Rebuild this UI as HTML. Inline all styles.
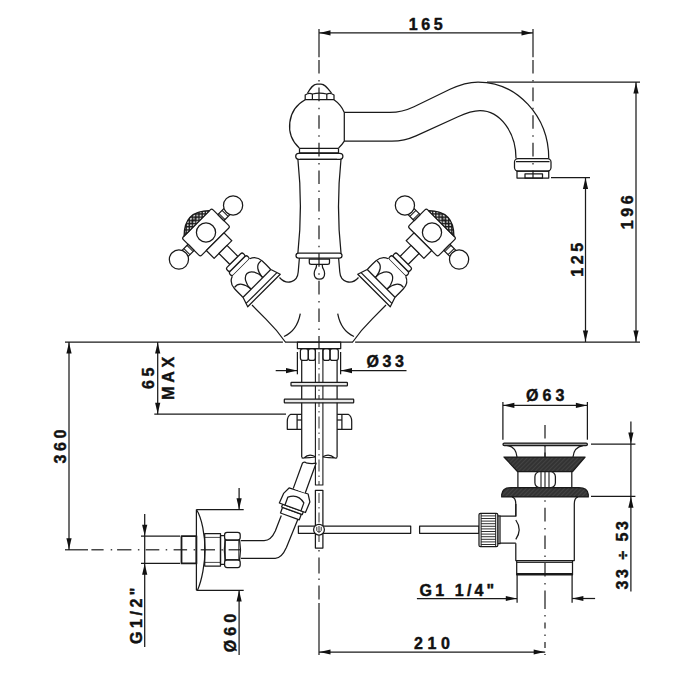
<!DOCTYPE html>
<html><head><meta charset="utf-8"><style>html,body{margin:0;padding:0;background:#fff;width:700px;height:700px;overflow:hidden}svg{display:block}</style></head>
<body><svg width="700" height="700" viewBox="0 0 700 700">
<defs>
<pattern id="hatch" width="3" height="3" patternUnits="userSpaceOnUse" patternTransform="rotate(45)">
<rect width="3" height="3" fill="#333"/><line x1="0" y1="0" x2="0" y2="3" stroke="#5a5a5a" stroke-width="0.8"/></pattern>
<pattern id="knurl" width="3.2" height="3.2" patternUnits="userSpaceOnUse" patternTransform="rotate(45)">
<rect width="3.2" height="3.2" fill="#fff"/><rect x="0" y="0" width="1.3" height="3.2" fill="#222"/><rect x="0" y="0" width="3.2" height="1.3" fill="#222"/></pattern>
<radialGradient id="kdark" cx="0.5" cy="0.5" r="0.5"><stop offset="0" stop-color="#000" stop-opacity="0.6"/><stop offset="0.55" stop-color="#000" stop-opacity="0.15"/><stop offset="1" stop-color="#000" stop-opacity="0"/></radialGradient>
</defs>
<g stroke="#1a1a1a" fill="none" stroke-linecap="butt" stroke-linejoin="round">
<line x1="319" y1="32.9" x2="533" y2="32.9" stroke-width="1.25" />
<path d="M319.50,32.90 L330.50,30.30 L330.50,35.50 Z" fill="#111" stroke="none"/>
<path d="M532.50,32.90 L521.50,35.50 L521.50,30.30 Z" fill="#111" stroke="none"/>
<text fill="#111" stroke="#111" stroke-width="0.45" font-family="Liberation Sans" font-weight="bold" x="427.5" y="29.5" font-size="16" letter-spacing="3.6" text-anchor="middle">165</text>
<line x1="319" y1="29" x2="319" y2="57.3" stroke-width="1.2" />
<line x1="319" y1="60" x2="319" y2="342" stroke-width="1.2" stroke-dasharray="13.6 6.5 1.5 6"/>
<line x1="533" y1="29" x2="533" y2="57.3" stroke-width="1.2" />
<line x1="533" y1="60" x2="533" y2="178" stroke-width="1.2" stroke-dasharray="13.6 6.5 1.5 6"/>
<line x1="487" y1="82" x2="640" y2="82" stroke-width="1.25" />
<line x1="636" y1="82" x2="636" y2="342" stroke-width="1.25" />
<path d="M636.00,82.50 L638.60,93.50 L633.40,93.50 Z" fill="#111" stroke="none"/>
<path d="M636.00,341.50 L633.40,330.50 L638.60,330.50 Z" fill="#111" stroke="none"/>
<text fill="#111" stroke="#111" stroke-width="0.45" font-family="Liberation Sans" font-weight="bold" x="0" y="0" transform="translate(633,210.4) rotate(-90)" font-size="16" letter-spacing="3.6" text-anchor="middle">196</text>
<line x1="551" y1="177.5" x2="590" y2="177.5" stroke-width="1.25" />
<line x1="585.5" y1="178" x2="585.5" y2="342" stroke-width="1.25" />
<path d="M585.50,178.00 L588.10,189.00 L582.90,189.00 Z" fill="#111" stroke="none"/>
<path d="M585.50,341.50 L582.90,330.50 L588.10,330.50 Z" fill="#111" stroke="none"/>
<text fill="#111" stroke="#111" stroke-width="0.45" font-family="Liberation Sans" font-weight="bold" x="0" y="0" transform="translate(582.5,258) rotate(-90)" font-size="16" letter-spacing="3.6" text-anchor="middle">125</text>
<line x1="65" y1="342" x2="282.9" y2="342" stroke-width="1.25" />
<line x1="285" y1="342" x2="353" y2="342" stroke-width="1.25" />
<line x1="355.1" y1="342" x2="640" y2="342" stroke-width="1.25" />
<path d="M307.5,93.2 C310.5,88 313,84 317,84 L321,84 C325,84 327.5,88 331.5,93.2" stroke-width="1.25" fill="none" />
<path d="M305.2,99.6 L305.2,95 Q308.8,92.6 312.4,94 Q319.6,92.2 326.8,94 Q330.4,92.6 334,95 L334,99.6 Z" stroke-width="1.25" fill="none" />
<line x1="312.4" y1="94" x2="312.4" y2="99.6" stroke-width="1.25" />
<line x1="326.8" y1="94" x2="326.8" y2="99.6" stroke-width="1.25" />
<path d="M305.2,99.8 A29.8,29.8 0 0 0 299.3,148" stroke-width="1.25" fill="none" />
<path d="M334,99.8 A29.8,29.8 0 0 1 344.3,112.4 L344.3,141.2 A29.8,29.8 0 0 1 338.6,148" stroke-width="1.25" fill="none" />
<line x1="299.3" y1="148.3" x2="338.6" y2="148.3" stroke-width="1.25" />
<line x1="299.5" y1="152.9" x2="338.5" y2="152.9" stroke-width="1.25" />
<line x1="299.5" y1="148.3" x2="299.5" y2="153.3" stroke-width="1.25" />
<line x1="338.5" y1="148.3" x2="338.5" y2="153.3" stroke-width="1.25" />
<rect x="295.7" y="153.3" width="47.2" height="6" rx="3" stroke-width="1.25" fill="none" />
<line x1="300" y1="159.3" x2="337" y2="159.3" stroke-width="1.25" />
<path d="M297.9,159.3 Q302.9,207 297.9,253" stroke-width="1.25" fill="none" />
<path d="M341,159.3 Q336,207 341,253" stroke-width="1.25" fill="none" />
<rect x="296" y="253" width="46" height="5.2" rx="2.6" stroke-width="1.25" fill="none" />
<path d="M299.4,258 L298.2,272 C297.5,282 287,286 279.5,277.5" stroke-width="1.25" fill="none" />
<path d="M338.6,258 L339.8,272 C340.5,282 351,286 358.5,277.5" stroke-width="1.25" fill="none" />
<path d="M309.3,259 L329.5,259 L329.5,262.5 Q329.5,264.4 327.5,264.4 L311.3,264.4 Q309.3,264.4 309.3,262.5 Z" stroke-width="1.25" fill="none" />
<path d="M316.6,264.4 Q316.6,267.5 315.2,269.5 Q314.2,271.2 314.2,273.5 Q314.2,279.2 319.4,279.2 Q324.6,279.2 324.6,273.5 Q324.6,271.2 323.6,269.5 Q322.2,267.5 322.2,264.4" stroke-width="1.25" fill="none" />
<path d="M300.3,313.7 Q297,331 284,336.5" stroke-width="1.25" fill="none" />
<path d="M337.7,313.7 Q341,331 354,336.5" stroke-width="1.25" fill="none" />
<path d="M252,305 L265.7,318.9 Q277,330 285.3,342" stroke-width="1.25" fill="none" />
<path d="M386,305 L372.3,318.9 Q361,330 352.7,342" stroke-width="1.25" fill="none" />
<path d="M344.3,112.4 L390,112.4 C400,112.4 406,110.5 414,106.7 L450,89.3 C460,84.5 468,82 478,82 A70.75,76.5 0 0 1 548.75,158.5" stroke-width="1.25" fill="none" />
<path d="M344.3,141.2 L392,141.2 C402,141.2 408,139.5 416,135.9 L458,116.8 C466,113 472,110.6 480,110.6 A36,47.9 0 0 1 516,158.5" stroke-width="1.25" fill="none" />
<rect x="514.5" y="158.6" width="36.5" height="12.4" rx="3.5" stroke-width="1.25" fill="none" />
<line x1="516" y1="161.5" x2="549.5" y2="161.5" stroke-width="1.25" />
<rect x="517" y="171" width="31.75" height="7" rx="0" stroke-width="1.25" fill="none" />
<rect x="525" y="173.9" width="17.5" height="4.1" rx="0" stroke-width="1.25" fill="none" />
<g transform="translate(206,232.5) rotate(45)"><rect x="-13" y="-21" width="26" height="42" rx="2" fill="#fff" stroke-width="1.25"/><circle cx="0" cy="0" r="9.6" fill="none" stroke-width="1.25"/><path d="M-13,-18 Q-31,0 -13,18 Z" fill="url(#knurl)" stroke-width="1.25"/><path d="M-13,-18 Q-31,0 -13,18 Z" fill="url(#kdark)" stroke="none"/><rect x="-4.3" y="-29.5" width="8.6" height="8.5" fill="#fff" stroke-width="1.25"/><line x1="-4.3" y1="-22.6" x2="4.3" y2="-22.6" stroke-width="1.0"/><line x1="-4.3" y1="-27" x2="4.3" y2="-27" stroke-width="1.0"/><circle cx="0" cy="-38.3" r="9.6" fill="#fff" stroke-width="1.25"/><rect x="-4.3" y="21" width="8.6" height="8.5" fill="#fff" stroke-width="1.25"/><line x1="-4.3" y1="22.6" x2="4.3" y2="22.6" stroke-width="1.0"/><line x1="-4.3" y1="27" x2="4.3" y2="27" stroke-width="1.0"/><circle cx="0" cy="38.3" r="9.6" fill="#fff" stroke-width="1.25"/><rect x="13" y="-12.5" width="11" height="25" fill="#fff" stroke-width="1.25"/><rect x="24" y="-5.7" width="15.5" height="11.4" fill="#fff" stroke-width="1.25"/><rect x="39.5" y="-11.5" width="5" height="23" rx="2" fill="#fff" stroke-width="1.25"/><rect x="44.5" y="-12.6" width="5" height="25.2" rx="2" fill="#fff" stroke-width="1.25"/><path d="M49.5,-12.3 C51,-16.5 54.5,-19.3 60,-19.6 C66,-19.8 69,-19.7 72,-19.7 L82,-23 L82,23 L72,19.7 C69,19.7 66,19.8 60,19.6 C54.5,19.3 51,16.5 49.5,12.3" fill="#fff" stroke-width="1.25"/><line x1="72" y1="-19.6" x2="72" y2="19.6" stroke-width="1.25"/><line x1="78.5" y1="-21.8" x2="78.5" y2="21.8" stroke-width="1.25"/><path d="M72,-8.5 A14,8.5 0 0 0 72,8.5" fill="none" stroke-width="1.25"/><path d="M71.5,-8 C64,-9 58,-12 59,-18.6" fill="none" stroke-width="1.25"/><path d="M71.5,8 C64,9 58,12 59,18.6" fill="none" stroke-width="1.25"/></g>
<g transform="translate(638,0) scale(-1,1) translate(206,232.5) rotate(45)"><rect x="-13" y="-21" width="26" height="42" rx="2" fill="#fff" stroke-width="1.25"/><circle cx="0" cy="0" r="9.6" fill="none" stroke-width="1.25"/><path d="M-13,-18 Q-31,0 -13,18 Z" fill="url(#knurl)" stroke-width="1.25"/><path d="M-13,-18 Q-31,0 -13,18 Z" fill="url(#kdark)" stroke="none"/><rect x="-4.3" y="-29.5" width="8.6" height="8.5" fill="#fff" stroke-width="1.25"/><line x1="-4.3" y1="-22.6" x2="4.3" y2="-22.6" stroke-width="1.0"/><line x1="-4.3" y1="-27" x2="4.3" y2="-27" stroke-width="1.0"/><circle cx="0" cy="-38.3" r="9.6" fill="#fff" stroke-width="1.25"/><rect x="-4.3" y="21" width="8.6" height="8.5" fill="#fff" stroke-width="1.25"/><line x1="-4.3" y1="22.6" x2="4.3" y2="22.6" stroke-width="1.0"/><line x1="-4.3" y1="27" x2="4.3" y2="27" stroke-width="1.0"/><circle cx="0" cy="38.3" r="9.6" fill="#fff" stroke-width="1.25"/><rect x="13" y="-12.5" width="11" height="25" fill="#fff" stroke-width="1.25"/><rect x="24" y="-5.7" width="15.5" height="11.4" fill="#fff" stroke-width="1.25"/><rect x="39.5" y="-11.5" width="5" height="23" rx="2" fill="#fff" stroke-width="1.25"/><rect x="44.5" y="-12.6" width="5" height="25.2" rx="2" fill="#fff" stroke-width="1.25"/><path d="M49.5,-12.3 C51,-16.5 54.5,-19.3 60,-19.6 C66,-19.8 69,-19.7 72,-19.7 L82,-23 L82,23 L72,19.7 C69,19.7 66,19.8 60,19.6 C54.5,19.3 51,16.5 49.5,12.3" fill="#fff" stroke-width="1.25"/><line x1="72" y1="-19.6" x2="72" y2="19.6" stroke-width="1.25"/><line x1="78.5" y1="-21.8" x2="78.5" y2="21.8" stroke-width="1.25"/><path d="M72,-8.5 A14,8.5 0 0 0 72,8.5" fill="none" stroke-width="1.25"/><path d="M71.5,-8 C64,-9 58,-12 59,-18.6" fill="none" stroke-width="1.25"/><path d="M71.5,8 C64,9 58,12 59,18.6" fill="none" stroke-width="1.25"/></g>
<rect x="297.4" y="342" width="43.3" height="6.6" rx="0" stroke-width="1.25" fill="none" />
<line x1="319" y1="342" x2="319" y2="349" stroke-width="1.2" />
<rect x="300.4" y="348.6" width="7.900000000000034" height="11.8" rx="2.5" stroke-width="1.25" fill="none" />
<rect x="308.3" y="348.6" width="7.099999999999966" height="11.8" rx="2.5" stroke-width="1.25" fill="none" />
<rect x="322.9" y="348.6" width="7.100000000000023" height="11.8" rx="2.5" stroke-width="1.25" fill="none" />
<rect x="330" y="348.6" width="8.300000000000011" height="11.8" rx="2.5" stroke-width="1.25" fill="none" />
<line x1="301.7" y1="360.4" x2="301.7" y2="457" stroke-width="1.25" />
<line x1="337.1" y1="360.4" x2="337.1" y2="457" stroke-width="1.25" />
<path d="M301.7,457.3 Q302,458.3 304,458 Q309,457.6 315.4,456.8 M304,458 Q309,452.8 315.4,456.8" stroke-width="1.25" fill="none" />
<path d="M322.9,456.8 Q329,457.6 334.6,458 Q336.8,458.3 337.1,457.3 M322.9,456.8 Q329,452.8 334.6,458" stroke-width="1.25" fill="none" />
<rect x="315.4" y="348.6" width="7.5" height="136.4" rx="0" stroke-width="1.1" fill="none" />
<line x1="319" y1="352" x2="319" y2="485" stroke-width="0.9" stroke-dasharray="12 4 1.5 4"/>
<rect x="315.4" y="490.3" width="7.5" height="57.7" rx="0" stroke-width="1.25" fill="none" />
<line x1="319" y1="493" x2="319" y2="546" stroke-width="0.9" stroke-dasharray="10 4 1.5 4"/>
<rect x="291" y="382.3" width="56.4" height="3.6" rx="0.6" stroke-width="1.25" fill="#e8e8e8" />
<rect x="284.3" y="399.1" width="69.4" height="3.7" rx="0.6" stroke-width="1.25" fill="#e8e8e8" />
<path d="M301.7,414.3 L290.8,414.3 Q287.3,416 287.3,421.5 L287.3,429.3 L301.7,429.3" stroke-width="1.25" fill="none" />
<line x1="297.1" y1="414.3" x2="297.1" y2="429.3" stroke-width="1.25" />
<line x1="297.1" y1="420" x2="301.7" y2="420" stroke-width="1.25" />
<path d="M337.1,414.3 L348.2,414.3 Q351.7,416 351.7,421.5 L351.7,429.3 L337.1,429.3" stroke-width="1.25" fill="none" />
<line x1="341.9" y1="414.3" x2="341.9" y2="429.3" stroke-width="1.25" />
<line x1="337.1" y1="420" x2="341.9" y2="420" stroke-width="1.25" />
<line x1="297.4" y1="352" x2="297.4" y2="374.3" stroke-width="1.25" />
<line x1="340.6" y1="352" x2="340.6" y2="374.3" stroke-width="1.25" />
<line x1="275.7" y1="370.6" x2="297.4" y2="370.6" stroke-width="1.25" />
<path d="M297.00,370.60 L286.00,373.20 L286.00,368.00 Z" fill="#111" stroke="none"/>
<line x1="340.6" y1="370.6" x2="406.5" y2="370.6" stroke-width="1.25" />
<path d="M341.00,370.60 L352.00,368.00 L352.00,373.20 Z" fill="#111" stroke="none"/>
<text fill="#111" stroke="#111" stroke-width="0.45" font-family="Liberation Sans" font-weight="bold" x="387" y="367.3" font-size="16" letter-spacing="3.6" text-anchor="middle">Ø33</text>
<line x1="154.3" y1="414.2" x2="286" y2="414.2" stroke-width="1.25" />
<line x1="157.7" y1="342" x2="157.7" y2="414.2" stroke-width="1.25" />
<path d="M157.70,342.50 L160.30,353.50 L155.10,353.50 Z" fill="#111" stroke="none"/>
<path d="M157.70,413.70 L155.10,402.70 L160.30,402.70 Z" fill="#111" stroke="none"/>
<text fill="#111" stroke="#111" stroke-width="0.45" font-family="Liberation Sans" font-weight="bold" x="0" y="0" transform="translate(154.3,376.5) rotate(-90)" font-size="16" letter-spacing="3.6" text-anchor="middle">65</text>
<text fill="#111" stroke="#111" stroke-width="0.45" font-family="Liberation Sans" font-weight="bold" x="0" y="0" transform="translate(173.5,376.5) rotate(-90)" font-size="16" letter-spacing="3.6" text-anchor="middle">MAX</text>
<line x1="69" y1="342" x2="69" y2="550" stroke-width="1.25" />
<path d="M69.00,342.50 L71.60,353.50 L66.40,353.50 Z" fill="#111" stroke="none"/>
<path d="M69.00,549.30 L66.40,538.30 L71.60,538.30 Z" fill="#111" stroke="none"/>
<text fill="#111" stroke="#111" stroke-width="0.45" font-family="Liberation Sans" font-weight="bold" x="0" y="0" transform="translate(66.3,444.8) rotate(-90)" font-size="16" letter-spacing="3.6" text-anchor="middle">360</text>
<line x1="65" y1="549.8" x2="88" y2="549.8" stroke-width="1.2" />
<line x1="91.4" y1="549.8" x2="103.6" y2="549.8" stroke-width="1.2" />
<line x1="110.7" y1="549.8" x2="112.2" y2="549.8" stroke-width="1.2" />
<line x1="117.1" y1="549.8" x2="131.4" y2="549.8" stroke-width="1.2" />
<line x1="137.9" y1="549.8" x2="139.4" y2="549.8" stroke-width="1.2" />
<line x1="145.7" y1="549.8" x2="159.3" y2="549.8" stroke-width="1.2" />
<line x1="165.7" y1="549.8" x2="167.2" y2="549.8" stroke-width="1.2" />
<line x1="173.6" y1="549.8" x2="187.1" y2="549.8" stroke-width="1.2" />
<line x1="193.6" y1="549.8" x2="195.1" y2="549.8" stroke-width="1.2" />
<line x1="200.7" y1="549.8" x2="215" y2="549.8" stroke-width="1.2" />
<line x1="221.4" y1="549.8" x2="222.9" y2="549.8" stroke-width="1.2" />
<line x1="228.6" y1="549.8" x2="240" y2="549.8" stroke-width="1.2" />
<path d="M196.4,509.5 L196.4,590.3 M196.4,509.5 C202,518 205,536 205,549.8 C205,563 202,580 197.5,590.3" stroke-width="1.25" fill="none" />
<line x1="196.4" y1="509.5" x2="243.7" y2="509.5" stroke-width="1.25" />
<line x1="196.4" y1="590.3" x2="243.7" y2="590.3" stroke-width="1.25" />
<line x1="239.1" y1="488" x2="239.1" y2="509.5" stroke-width="1.25" />
<path d="M239.10,509.20 L236.50,498.20 L241.70,498.20 Z" fill="#111" stroke="none"/>
<line x1="239.1" y1="590.3" x2="239.1" y2="655" stroke-width="1.25" />
<path d="M239.10,590.60 L241.70,601.60 L236.50,601.60 Z" fill="#111" stroke="none"/>
<text fill="#111" stroke="#111" stroke-width="0.45" font-family="Liberation Sans" font-weight="bold" x="0" y="0" transform="translate(236.4,631) rotate(-90)" font-size="16" letter-spacing="4.0" text-anchor="middle">Ø60</text>
<rect x="181.5" y="536.1" width="14.9" height="27.3" rx="0" stroke-width="1.8" fill="none" />
<line x1="141" y1="536.1" x2="180" y2="536.1" stroke-width="1.25" />
<line x1="141" y1="563.4" x2="180" y2="563.4" stroke-width="1.25" />
<line x1="144.7" y1="514" x2="144.7" y2="647" stroke-width="1.25" />
<path d="M144.70,535.70 L142.10,524.70 L147.30,524.70 Z" fill="#111" stroke="none"/>
<path d="M144.70,563.80 L147.30,574.80 L142.10,574.80 Z" fill="#111" stroke="none"/>
<text fill="#111" stroke="#111" stroke-width="0.45" font-family="Liberation Sans" font-weight="bold" x="0" y="0" transform="translate(142,614) rotate(-90)" font-size="16" letter-spacing="3.5" text-anchor="middle">G1/2"</text>
<rect x="204.7" y="533.6" width="15.8" height="32.5" rx="0" stroke-width="1.25" fill="none" />
<line x1="204.7" y1="537.4" x2="220.5" y2="537.4" stroke-width="0.8" />
<line x1="204.7" y1="562.4" x2="220.5" y2="562.4" stroke-width="0.8" />
<rect x="220.5" y="535.5" width="4.6" height="28.8" rx="0" stroke-width="1.25" fill="none" />
<rect x="224.6" y="532.3" width="15.6" height="7.7" rx="2.5" stroke-width="1.25" fill="#fff" />
<rect x="224.6" y="559.8" width="15.6" height="7.7" rx="2.5" stroke-width="1.25" fill="#fff" />
<path d="M225.2,540 Q223.4,549.9 225.2,559.8 L239.6,559.8 Q241.4,549.9 239.6,540 Z" stroke-width="1.25" fill="none" />
<line x1="238.8" y1="540.5" x2="238.8" y2="559.3" stroke-width="0.9" />
<path d="M240.9,540.5 L264.1,540.5 C270,540.5 273,536 275.3,530.9 L281.3,515.5" stroke-width="1.25" fill="none" />
<path d="M240.9,558.3 L275.3,558.3 C281,558.3 284,553 286.4,547.6 L298.4,518" stroke-width="1.25" fill="none" />
<g transform="translate(288,521.6) rotate(20)"><rect x="-10" y="-11.5" width="20" height="6" fill="#fff" stroke-width="1.25"/><rect x="-11" y="-14.5" width="22" height="3" fill="#fff" stroke-width="1.25"/><path d="M-14.5,-14.5 L-13.8,-25 L-10.5,-32 L9.5,-32.8 L13.8,-26 L13.3,-14.5 Z" fill="#fff" stroke-width="1.25"/><path d="M-8.5,-14.5 L-8.5,-23 Q0,-30 8.5,-23 L8.5,-14.5" fill="none" stroke-width="1.25"/><path d="M-6.4,-32.8 L-6.4,-60 Q-5,-62.2 -3,-61.5 Q2,-62 6.4,-64.5 L6.4,-32.8" fill="#fff" stroke-width="1.25"/></g>
<rect x="298.4" y="526.1" width="112.3" height="7.2" rx="0" stroke-width="1.25" fill="#fff" />
<rect x="419.6" y="526.1" width="59.4" height="7.2" rx="0" stroke-width="1.25" fill="#fff" />
<circle cx="319" cy="529.7" r="5.4" fill="#fff" stroke-width="1.25"/>
<path d="M316.8,526.8 L316.8,530.5 Q319,534 321.2,530.5 L321.2,526.8 M319,526 L319,532" fill="none" stroke-width="0.9"/>
<line x1="319" y1="550" x2="319" y2="551.5" stroke-width="1.2" />
<line x1="319" y1="557.6" x2="319" y2="573.4" stroke-width="1.2" />
<line x1="319" y1="578.5" x2="319" y2="580" stroke-width="1.2" />
<line x1="319" y1="585.5" x2="319" y2="599.4" stroke-width="1.2" />
<line x1="319" y1="603" x2="319" y2="655" stroke-width="1.2" />
<line x1="319" y1="652" x2="545.2" y2="652" stroke-width="1.25" />
<path d="M319.50,652.00 L330.50,649.40 L330.50,654.60 Z" fill="#111" stroke="none"/>
<path d="M544.70,652.00 L533.70,654.60 L533.70,649.40 Z" fill="#111" stroke="none"/>
<text fill="#111" stroke="#111" stroke-width="0.45" font-family="Liberation Sans" font-weight="bold" x="434.3" y="649" font-size="16" letter-spacing="4.6" text-anchor="middle">210</text>
<line x1="545" y1="425" x2="545" y2="603" stroke-width="1.2" stroke-dasharray="13.6 6.5 1.5 6"/>
<line x1="545" y1="603" x2="545" y2="655" stroke-width="1.2" stroke-dasharray="6 6 1.5 6"/>
<line x1="545" y1="445" x2="545" y2="457" stroke-width="1.1" />
<rect x="503" y="443" width="84.4" height="2.6" rx="1.3" stroke-width="1.25" fill="#999" />
<path d="M507.4,445.6 Q516,447 517,457" stroke-width="1.25" fill="none" />
<path d="M583,445.6 Q574,447 573,457" stroke-width="1.25" fill="none" />
<path d="M504,457 L585.1,457 L572.6,471.7 L517.7,471.7 Z" stroke-width="1.25" fill="url(#hatch)" />
<line x1="517.9" y1="471.7" x2="517.9" y2="487.7" stroke-width="1.25" />
<line x1="571.8" y1="471.7" x2="571.8" y2="487.7" stroke-width="1.25" />
<rect x="534.9" y="471.7" width="20.5" height="16" rx="5" stroke-width="1.25" fill="#fff" />
<line x1="541" y1="472" x2="541" y2="487.5" stroke-width="1.1" />
<line x1="545" y1="472" x2="545" y2="487.5" stroke-width="1.1" />
<line x1="549" y1="472" x2="549" y2="487.5" stroke-width="1.1" />
<path d="M501.7,496.9 L501.7,494.5 Q502.5,487.7 511,487.7 L579,487.7 Q587.5,487.7 588.3,494.5 L588.3,496.9 Z" stroke-width="1.25" fill="url(#hatch)" />
<path d="M512,496.9 Q515.8,498 515.8,504 L515.8,516.2 M515.8,543.2 L515.8,560.6 L574.3,560.6 L574.3,504 Q574.3,498 578,496.9" stroke-width="1.25" fill="none" />
<rect x="516.7" y="560.6" width="55.8" height="14.2" rx="0" stroke-width="1.25" fill="none" />
<line x1="516.7" y1="562.4" x2="572.5" y2="562.4" stroke-width="1.0" />
<line x1="516.7" y1="574" x2="572.5" y2="574" stroke-width="2.0" />
<path d="M500,516.2 L515.8,516.2 L515.8,504 M500,543.2 L515.8,543.2" stroke-width="1.25" fill="none" />
<path d="M515.8,520 Q522.5,529.7 515.8,539.4" stroke-width="1.25" fill="none" />
<rect x="497.8" y="515.9" width="2.2" height="27.8" rx="0" stroke-width="1.25" fill="none" />
<rect x="479" y="513.3" width="18.8" height="33.4" rx="1.5" stroke-width="1.25" fill="#fff" />
<line x1="481.1" y1="513.3" x2="481.1" y2="546.7" stroke-width="1.0" />
<line x1="495.7" y1="513.3" x2="495.7" y2="546.7" stroke-width="1.0" />
<line x1="481.1" y1="515.9" x2="495.7" y2="515.9" stroke-width="0.9" />
<line x1="481.1" y1="518.5" x2="495.7" y2="518.5" stroke-width="0.9" />
<line x1="481.1" y1="521.1" x2="495.7" y2="521.1" stroke-width="0.9" />
<line x1="481.1" y1="523.7" x2="495.7" y2="523.7" stroke-width="0.9" />
<line x1="481.1" y1="526.3" x2="495.7" y2="526.3" stroke-width="0.9" />
<line x1="481.1" y1="528.9" x2="495.7" y2="528.9" stroke-width="0.9" />
<line x1="481.1" y1="531.5" x2="495.7" y2="531.5" stroke-width="0.9" />
<line x1="481.1" y1="534.1" x2="495.7" y2="534.1" stroke-width="0.9" />
<line x1="481.1" y1="536.7" x2="495.7" y2="536.7" stroke-width="0.9" />
<line x1="481.1" y1="539.3" x2="495.7" y2="539.3" stroke-width="0.9" />
<line x1="481.1" y1="541.9" x2="495.7" y2="541.9" stroke-width="0.9" />
<line x1="481.1" y1="544.5" x2="495.7" y2="544.5" stroke-width="0.9" />
<line x1="502.9" y1="405.4" x2="587.4" y2="405.4" stroke-width="1.25" />
<path d="M503.40,405.40 L514.40,402.80 L514.40,408.00 Z" fill="#111" stroke="none"/>
<path d="M586.90,405.40 L575.90,408.00 L575.90,402.80 Z" fill="#111" stroke="none"/>
<line x1="502.9" y1="402" x2="502.9" y2="439.7" stroke-width="1.25" />
<line x1="587.4" y1="402" x2="587.4" y2="439.7" stroke-width="1.25" />
<text fill="#111" stroke="#111" stroke-width="0.45" font-family="Liberation Sans" font-weight="bold" x="547.3" y="401" font-size="16" letter-spacing="4.2" text-anchor="middle">Ø63</text>
<line x1="591" y1="444" x2="635.4" y2="444" stroke-width="1.25" />
<line x1="591" y1="496.3" x2="635.4" y2="496.3" stroke-width="1.25" />
<line x1="630.9" y1="421.4" x2="630.9" y2="591.4" stroke-width="1.25" />
<path d="M630.90,443.60 L628.30,432.60 L633.50,432.60 Z" fill="#111" stroke="none"/>
<path d="M630.90,496.70 L633.50,507.70 L628.30,507.70 Z" fill="#111" stroke="none"/>
<text fill="#111" stroke="#111" stroke-width="0.45" font-family="Liberation Sans" font-weight="bold" x="0" y="0" transform="translate(627.7,554) rotate(-90)" font-size="16" letter-spacing="2.5" text-anchor="middle">33 ÷ 53</text>
<line x1="517.1" y1="574.3" x2="517.1" y2="602.7" stroke-width="1.25" />
<line x1="572.1" y1="574.3" x2="572.1" y2="602.7" stroke-width="1.25" />
<line x1="416.9" y1="598.5" x2="517.1" y2="598.5" stroke-width="1.25" />
<path d="M516.80,598.50 L505.80,601.10 L505.80,595.90 Z" fill="#111" stroke="none"/>
<line x1="572.1" y1="598.5" x2="595.1" y2="598.5" stroke-width="1.25" />
<path d="M572.40,598.50 L583.40,595.90 L583.40,601.10 Z" fill="#111" stroke="none"/>
<text fill="#111" stroke="#111" stroke-width="0.45" font-family="Liberation Sans" font-weight="bold" x="419.6" y="596" font-size="16" letter-spacing="3.15" text-anchor="start">G1 1/4"</text>
</g>
</svg></body></html>
